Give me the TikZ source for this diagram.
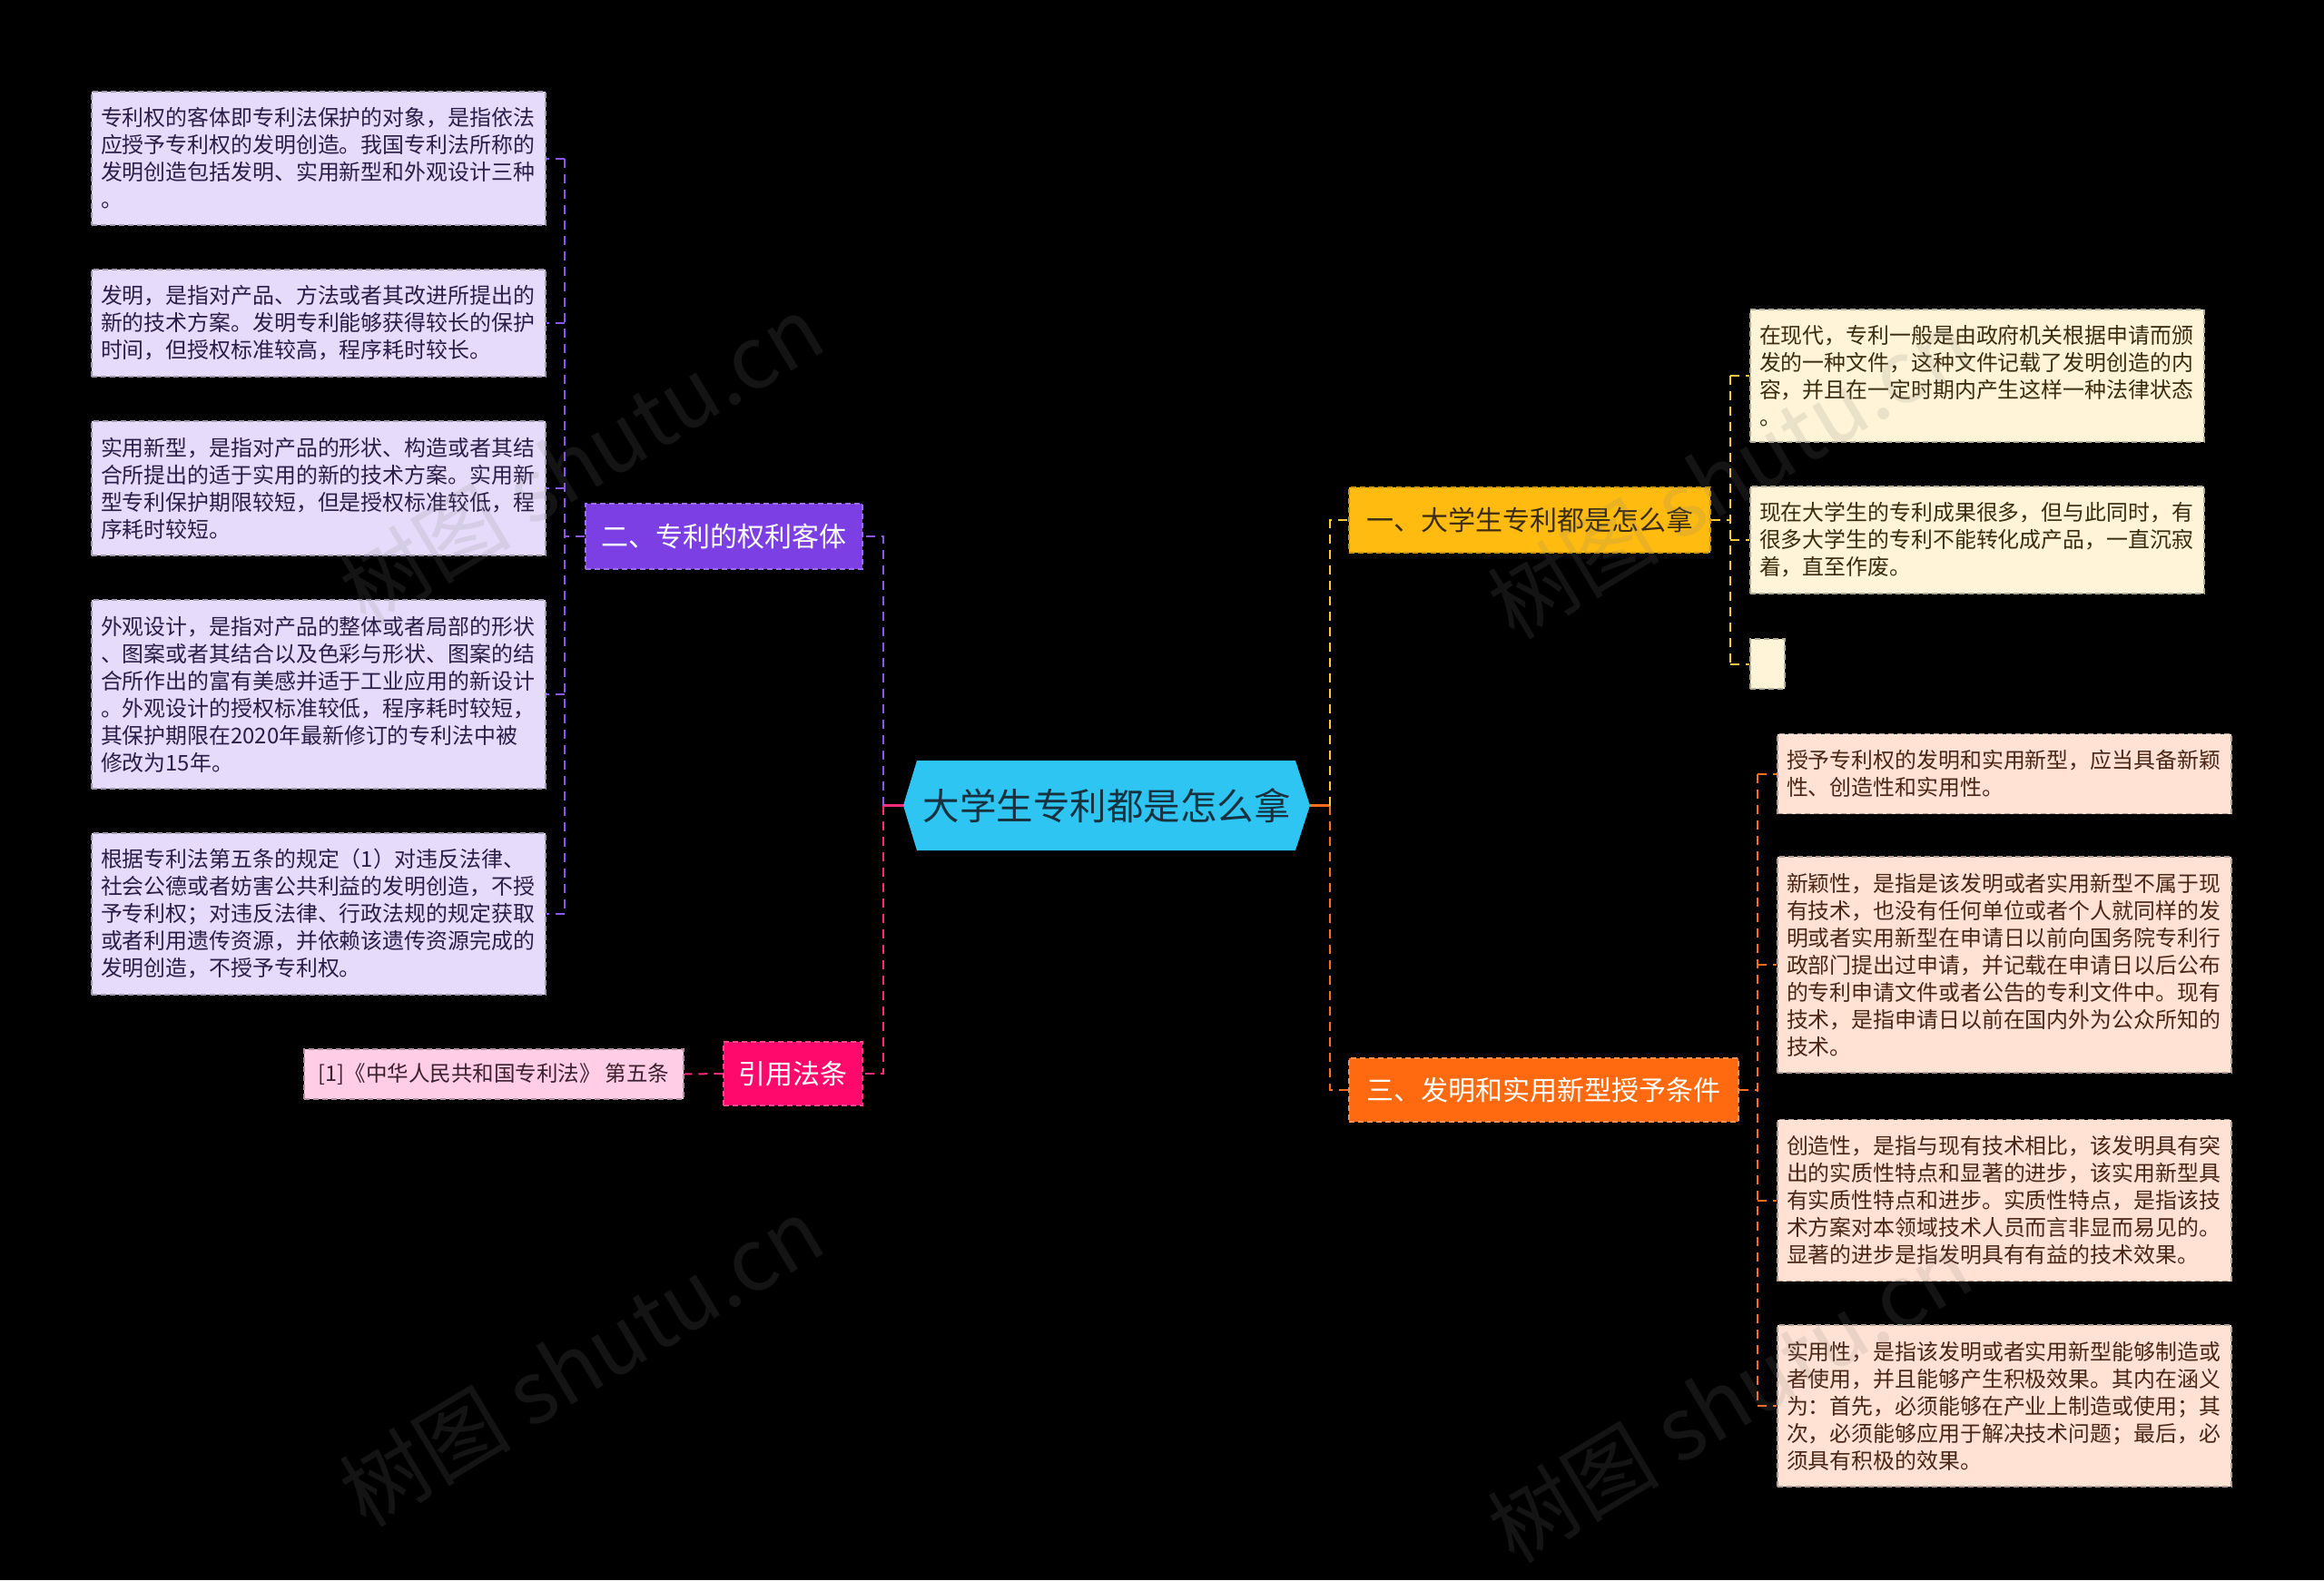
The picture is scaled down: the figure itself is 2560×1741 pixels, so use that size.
\documentclass[tikz,border=0pt]{standalone}
\usepackage{fontspec}
\setmainfont{Noto Sans CJK SC}
\usetikzlibrary{calc}
\definecolor{pfill}{HTML}{E6DBFA}
\definecolor{ptext}{HTML}{2A1E48}
\definecolor{pmain}{HTML}{7B3FE4}
\definecolor{pline}{HTML}{8B55F0}
\definecolor{kmain}{HTML}{FF0A6C}
\definecolor{kfill}{HTML}{FFCDE5}
\definecolor{kline}{HTML}{FF2A7A}
\definecolor{ktext}{HTML}{3A1F2C}
\definecolor{cfill}{HTML}{2EC5F3}
\definecolor{ctext}{HTML}{17313F}
\definecolor{ymain}{HTML}{FFBB10}
\definecolor{yfill}{HTML}{FFF4D8}
\definecolor{yline}{HTML}{FFC83A}
\definecolor{ytext}{HTML}{3B2C10}
\definecolor{omain}{HTML}{FF6A10}
\definecolor{ofill}{HTML}{FFE2D3}
\definecolor{oline}{HTML}{FF6E20}
\definecolor{otext}{HTML}{4A2616}
\tikzset{
  conn/.style={line width=2pt, dash pattern=on 10pt off 7pt},
  leafbox/.style={rectangle, minimum width=500pt, text width=480pt, inner xsep=10pt, inner ysep=0pt,
    align=left, font=\fontsize{23.9}{30}\selectfont, line width=1.3pt, dash pattern=on 6pt off 4pt},
  pleaf/.style={leafbox, fill=pfill, draw=pfill!70!black, text=ptext},
  yleaf/.style={leafbox, fill=yfill, draw=yfill!70!black, text=ytext},
  oleaf/.style={leafbox, fill=ofill, draw=ofill!70!black, text=otext},
  branchbox/.style={rectangle, inner sep=0pt, font=\fontsize{30}{36}\selectfont, line width=1.3pt, dash pattern=on 6pt off 4pt},
  wm/.style={text=gray, opacity=0.16, font=\fontsize{95}{100}\selectfont, rotate=31},
}
\begin{document}
\begin{tikzpicture}[x=1pt,y=-1pt]
\useasboundingbox (0,0) rectangle (2560,1741);
\fill[black] (0,0) rectangle (2560,1741);

% center hexagon
\fill[cfill] (1010,838) -- (1427,838) -- (1443,887.5) -- (1427,937) -- (1010,937) -- (995,887.5) -- cycle;
\node[text=ctext, font=\fontsize{40.5}{46}\selectfont, inner sep=0pt] (c) at (1219,887.5) {大学生专利都是怎么拿};
\coordinate (cL) at (995,887.5);
\coordinate (cR) at (1443,887.5);
\coordinate (tL) at (973,887.5);
\coordinate (tR) at (1465,887.5);

% branch nodes
\node[branchbox, fill=pmain, draw=pmain!75!white, text=white, minimum width=305pt, minimum height=72pt] (b2) at (797.5,591) {二、专利的权利客体};
\node[branchbox, fill=kmain, draw=kmain!75!white, text=white, minimum width=153pt, minimum height=70pt] (bk) at (873.5,1183) {引用法条};
\node[branchbox, fill=ymain, draw=ymain!80!black, text=ytext, minimum width=398pt, minimum height=72pt] (b1) at (1685,573) {一、大学生专利都是怎么拿};
\node[branchbox, fill=omain, draw=omain!75!white, text=white, minimum width=429pt, minimum height=70pt] (b3) at (1700.5,1201) {三、发明和实用新型授予条件};

% pink leaf
\node[rectangle, fill=kfill, draw=kfill!70!black, line width=1.3pt, dash pattern=on 6pt off 4pt, text=ktext,
  minimum width=418pt, minimum height=55pt, inner sep=0pt, font=\fontsize{23.5}{28}\selectfont] (k1) at (544,1183.5) {[1]《中华人民共和国专利法》 第五条};

% purple leaves
\node[pleaf, minimum height=147pt] (p1) at (351,174.5) {专利权的客体即专利法保护的对象，是指依法\\应授予专利权的发明创造。我国专利法所称的\\发明创造包括发明、实用新型和外观设计三种\\。};
\node[pleaf, minimum height=118pt] (p2) at (351,356) {发明，是指对产品、方法或者其改进所提出的\\新的技术方案。发明专利能够获得较长的保护\\时间，但授权标准较高，程序耗时较长。};
\node[pleaf, minimum height=148pt] (p3) at (351,538) {实用新型，是指对产品的形状、构造或者其结\\合所提出的适于实用的新的技术方案。实用新\\型专利保护期限较短，但是授权标准较低，程\\序耗时较短。};
\node[pleaf, minimum height=208pt] (p4) at (351,765) {外观设计，是指对产品的整体或者局部的形状\\、图案或者其结合以及色彩与形状、图案的结\\合所作出的富有美感并适于工业应用的新设计\\。外观设计的授权标准较低，程序耗时较短，\\其保护期限在2020年最新修订的专利法中被\\修改为15年。};
\node[pleaf, minimum height=178pt] (p5) at (351,1007) {根据专利法第五条的规定（1）对违反法律、\\社会公德或者妨害公共利益的发明创造，不授\\予专利权；对违反法律、行政法规的规定获取\\或者利用遗传资源，并依赖该遗传资源完成的\\发明创造，不授予专利权。};

% yellow leaves
\node[yleaf, minimum height=146pt] (y1) at (2178,414) {在现代，专利一般是由政府机关根据申请而颁\\发的一种文件，这种文件记载了发明创造的内\\容，并且在一定时期内产生这样一种法律状态\\。};
\node[yleaf, minimum height=118pt] (y2) at (2178,595) {现在大学生的专利成果很多，但与此同时，有\\很多大学生的专利不能转化成产品，一直沉寂\\着，直至作废。};
\node[rectangle, fill=yfill, draw=yfill!70!black, line width=1.3pt, dash pattern=on 6pt off 4pt,
  minimum width=38pt, minimum height=55pt, inner sep=0pt] (y3) at (1947,731.5) {};

% orange leaves
\node[oleaf, minimum height=88pt] (o1) at (2208,852.5) {授予专利权的发明和实用新型，应当具备新颖\\性、创造性和实用性。};
\node[oleaf, minimum height=238pt] (o2) at (2208,1063) {新颖性，是指是该发明或者实用新型不属于现\\有技术，也没有任何单位或者个人就同样的发\\明或者实用新型在申请日以前向国务院专利行\\政部门提出过申请，并记载在申请日以后公布\\的专利申请文件或者公告的专利文件中。现有\\技术，是指申请日以前在国内外为公众所知的\\技术。};
\node[oleaf, minimum height=178pt] (o3) at (2208,1322.5) {创造性，是指与现有技术相比，该发明具有突\\出的实质性特点和显著的进步，该实用新型具\\有实质性特点和进步。实质性特点，是指该技\\术方案对本领域技术人员而言非显而易见的。\\显著的进步是指发明具有有益的技术效果。};
\node[oleaf, minimum height=178pt] (o4) at (2208,1549) {实用性，是指该发明或者实用新型能够制造或\\者使用，并且能够产生积极效果。其内在涵义\\为：首先，必须能够在产业上制造或使用；其\\次，必须能够应用于解决技术问题；最后，必\\须具有积极的效果。};

% trunk coordinates
\coordinate (pt) at (622,591);
\coordinate (yt) at (1906,573);
\coordinate (ot) at (1936,1201);

% connectors: center left
\draw[kline, line width=2.5pt] (cL) -- (tL);
\draw[pline, conn] (tL) |- (b2.east);
\draw[kline, conn] (tL) |- (bk.east);
\draw[kline, conn] (bk.west) -- (k1.east);
% center right
\draw[oline, line width=2.5pt] (cR) -- (tR);
\draw[yline, conn] (tR) |- (b1.west);
\draw[oline, conn] (tR) |- (b3.west);

% purple children
\draw[pline, conn] (b2.west) -- (pt);
\draw[pline, conn] (pt |- p1.east) -- (pt |- p5.east);
\foreach \n in {p1,p2,p3,p4,p5} {\draw[pline, conn] (pt |- \n.east) -- (\n.east);}
% yellow children
\draw[yline, conn] (b1.east) -- (yt);
\draw[yline, conn] (yt |- y1.west) -- (yt |- y3.west);
\foreach \n in {y1,y2,y3} {\draw[yline, conn] (yt |- \n.west) -- (\n.west);}
% orange children
\draw[oline, conn] (b3.east) -- (ot);
\draw[oline, conn] (ot |- o1.west) -- (ot |- o4.west);
\foreach \n in {o1,o2,o3,o4} {\draw[oline, conn] (ot |- \n.west) -- (\n.west);}

% watermarks
\node[wm] (w1) at (640,506) {树图 shutu.cn};
\node[wm] (w2) at (1905,522) {树图 shutu.cn};
\node[wm] (w3) at (640,1500) {树图 shutu.cn};
\node[wm] (w4) at (1905,1540) {树图 shutu.cn};
\end{tikzpicture}
\end{document}
